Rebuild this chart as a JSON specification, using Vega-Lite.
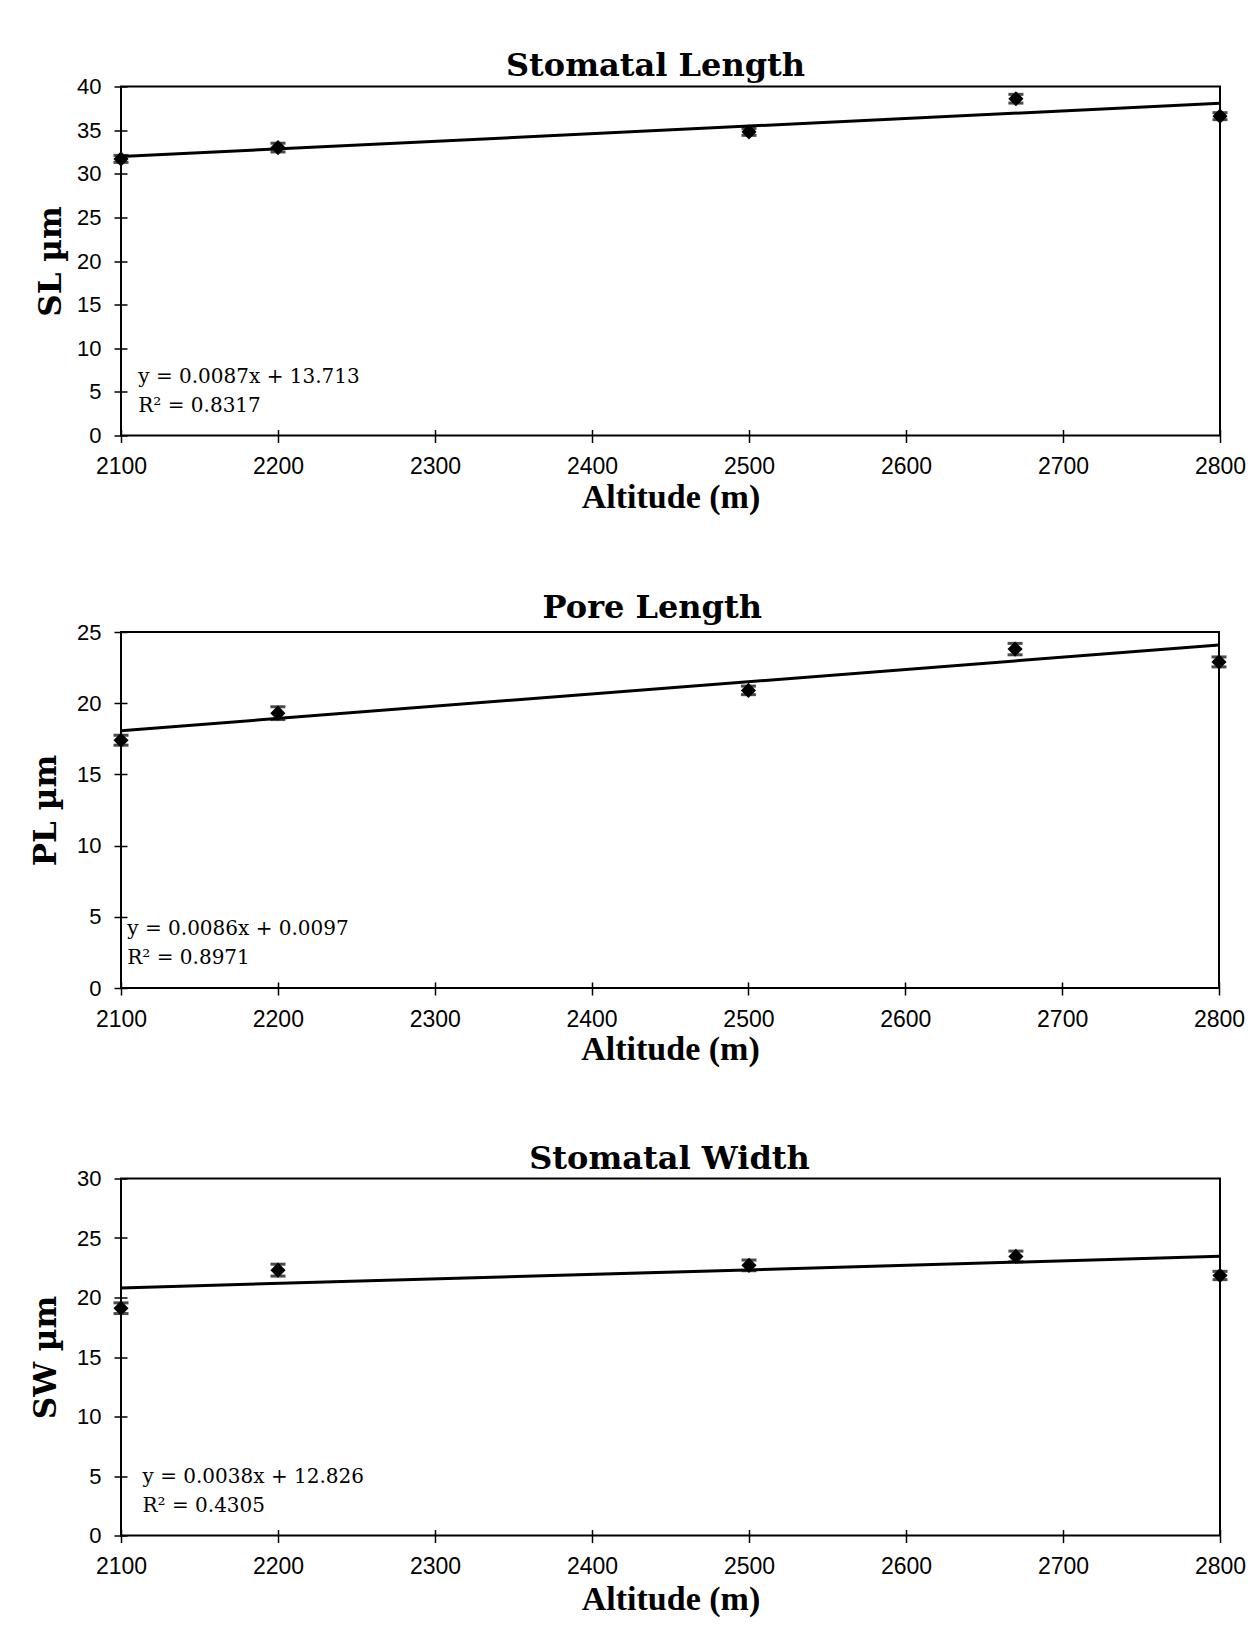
{
  "$schema": "https://vega.github.io/schema/vega-lite/v6.json",
  "background": "white",
  "padding": {"left": 29, "top": 48.5, "right": 4, "bottom": 4},
  "columns": 1,
  "align": "none",
  "spacing": 74.5,
  "config": {
    "view": {"stroke": "#000", "strokeWidth": 2},
    "axis": {
      "domain": false, "grid": false, "ticks": true,
      "tickColor": "#000", "tickWidth": 1.5, "tickSize": 13, "offset": -6,
      "labelFont": "Liberation Sans", "labelFontSize": 22, "labelColor": "#000", "labelFlush": false,
      "titleFont": "Liberation Serif", "titleFontWeight": "bold", "titleColor": "#000"
    },
    "axisX": {"labelPadding": 13, "titlePadding": 4, "titleFontSize": 34, "labelFontSize": 23},
    "axisY": {"labelPadding": 13, "titleFont": "DejaVu Serif", "titleFontSize": 31},
    "title": {"font": "DejaVu Serif", "fontSize": 32, "fontWeight": "bold", "color": "#000"},
    "text": {"font": "DejaVu Serif", "fontSize": 20, "color": "#000", "align": "left", "baseline": "alphabetic", "lineBreak": "\n", "lineHeight": 29}
  },
  "datasets": {
    "sl": [
      {"altitude": 2100, "mean": 31.7, "lo": 31.3, "hi": 32.1},
      {"altitude": 2200, "mean": 33.0, "lo": 32.5, "hi": 33.5},
      {"altitude": 2500, "mean": 34.8, "lo": 34.4, "hi": 35.2},
      {"altitude": 2670, "mean": 38.6, "lo": 38.1, "hi": 39.1},
      {"altitude": 2800, "mean": 36.6, "lo": 36.2, "hi": 37.0}
    ],
    "sl_fit": [
      {"altitude": 2100, "fit": 31.983},
      {"altitude": 2800, "fit": 38.073}
    ],
    "pl": [
      {"altitude": 2100, "mean": 17.4, "lo": 17.05, "hi": 17.75},
      {"altitude": 2200, "mean": 19.3, "lo": 18.85, "hi": 19.75},
      {"altitude": 2500, "mean": 20.9, "lo": 20.6, "hi": 21.2},
      {"altitude": 2670, "mean": 23.8, "lo": 23.4, "hi": 24.2},
      {"altitude": 2800, "mean": 22.9, "lo": 22.55, "hi": 23.25}
    ],
    "pl_fit": [
      {"altitude": 2100, "fit": 18.0697},
      {"altitude": 2800, "fit": 24.0897}
    ],
    "sw": [
      {"altitude": 2100, "mean": 19.1, "lo": 18.65, "hi": 19.55},
      {"altitude": 2200, "mean": 22.3, "lo": 21.8, "hi": 22.8},
      {"altitude": 2500, "mean": 22.7, "lo": 22.25, "hi": 23.15},
      {"altitude": 2670, "mean": 23.45, "lo": 23.0, "hi": 23.9},
      {"altitude": 2800, "mean": 21.85, "lo": 21.5, "hi": 22.2}
    ],
    "sw_fit": [
      {"altitude": 2100, "fit": 20.806},
      {"altitude": 2800, "fit": 23.466}
    ]
  },
  "concat": [
    {
      "width": 1099, "height": 349,
      "title": {"text": "Stomatal Length", "offset": -7, "dx": -15},
      "layer": [
        {
          "data": {"name": "sl_fit"},
          "mark": {"type": "line", "color": "#000", "strokeWidth": 3},
          "encoding": {
            "x": {"field": "altitude", "type": "quantitative", "title": "Altitude (m)",
                  "scale": {"domain": [2100, 2800], "nice": false, "zero": false},
                  "axis": {"values": [2100, 2200, 2300, 2400, 2500, 2600, 2700, 2800], "format": "d", "titlePadding": 2}},
            "y": {"field": "fit", "type": "quantitative", "title": "SL µm",
                  "scale": {"domain": [0, 40], "nice": false},
                  "axis": {"values": [0, 5, 10, 15, 20, 25, 30, 35, 40], "titlePadding": 8.7}}
          }
        },
        {
          "data": {"name": "sl"},
          "mark": {"type": "errorbar", "color": "#000", "thickness": 2.5, "ticks": {"color": "#000", "size": 15, "thickness": 3}},
          "encoding": {
            "x": {"field": "altitude", "type": "quantitative", "title": "Altitude (m)"},
            "y": {"field": "lo", "type": "quantitative", "title": "SL µm"},
            "y2": {"field": "hi"}
          }
        },
        {
          "data": {"name": "sl"},
          "mark": {"type": "point", "shape": "diamond", "filled": true, "color": "#000", "size": 230, "opacity": 1},
          "encoding": {
            "x": {"field": "altitude", "type": "quantitative", "title": "Altitude (m)"},
            "y": {"field": "mean", "type": "quantitative", "title": "SL µm"}
          }
        },
        {
          "data": {"values": [{"label": "y = 0.0087x + 13.713\nR² = 0.8317"}]},
          "mark": {"type": "text"},
          "encoding": {
            "x": {"datum": 2111, "type": "quantitative"},
            "y": {"datum": 6.05, "type": "quantitative"},
            "text": {"field": "label"}
          }
        }
      ]
    },
    {
      "width": 1098, "height": 356,
      "title": {"text": "Pore Length", "offset": -3.5, "dx": -17.7},
      "layer": [
        {
          "data": {"name": "pl_fit"},
          "mark": {"type": "line", "color": "#000", "strokeWidth": 3},
          "encoding": {
            "x": {"field": "altitude", "type": "quantitative", "title": "Altitude (m)",
                  "scale": {"domain": [2100, 2800], "nice": false, "zero": false},
                  "axis": {"values": [2100, 2200, 2300, 2400, 2500, 2600, 2700, 2800], "format": "d", "titlePadding": 1}},
            "y": {"field": "fit", "type": "quantitative", "title": "PL µm",
                  "scale": {"domain": [0, 25], "nice": false},
                  "axis": {"values": [0, 5, 10, 15, 20, 25], "titlePadding": 13.7}}
          }
        },
        {
          "data": {"name": "pl"},
          "mark": {"type": "errorbar", "color": "#000", "thickness": 2.5, "ticks": {"color": "#000", "size": 15, "thickness": 3}},
          "encoding": {
            "x": {"field": "altitude", "type": "quantitative", "title": "Altitude (m)"},
            "y": {"field": "lo", "type": "quantitative", "title": "PL µm"},
            "y2": {"field": "hi"}
          }
        },
        {
          "data": {"name": "pl"},
          "mark": {"type": "point", "shape": "diamond", "filled": true, "color": "#000", "size": 230, "opacity": 1},
          "encoding": {
            "x": {"field": "altitude", "type": "quantitative", "title": "Altitude (m)"},
            "y": {"field": "mean", "type": "quantitative", "title": "PL µm"}
          }
        },
        {
          "data": {"values": [{"label": "y = 0.0086x + 0.0097\nR² = 0.8971"}]},
          "mark": {"type": "text"},
          "encoding": {
            "x": {"datum": 2104, "type": "quantitative"},
            "y": {"datum": 3.73, "type": "quantitative"},
            "text": {"field": "label"}
          }
        }
      ]
    },
    {
      "width": 1099, "height": 357,
      "title": {"text": "Stomatal Width", "offset": -8, "dx": -1},
      "layer": [
        {
          "data": {"name": "sw_fit"},
          "mark": {"type": "line", "color": "#000", "strokeWidth": 3},
          "encoding": {
            "x": {"field": "altitude", "type": "quantitative", "title": "Altitude (m)",
                  "scale": {"domain": [2100, 2800], "nice": false, "zero": false},
                  "axis": {"values": [2100, 2200, 2300, 2400, 2500, 2600, 2700, 2800], "format": "d"}},
            "y": {"field": "fit", "type": "quantitative", "title": "SW µm",
                  "scale": {"domain": [0, 30], "nice": false},
                  "axis": {"values": [0, 5, 10, 15, 20, 25, 30], "titlePadding": 13.7}}
          }
        },
        {
          "data": {"name": "sw"},
          "mark": {"type": "errorbar", "color": "#000", "thickness": 2.5, "ticks": {"color": "#000", "size": 15, "thickness": 3}},
          "encoding": {
            "x": {"field": "altitude", "type": "quantitative", "title": "Altitude (m)"},
            "y": {"field": "lo", "type": "quantitative", "title": "SW µm"},
            "y2": {"field": "hi"}
          }
        },
        {
          "data": {"name": "sw"},
          "mark": {"type": "point", "shape": "diamond", "filled": true, "color": "#000", "size": 230, "opacity": 1},
          "encoding": {
            "x": {"field": "altitude", "type": "quantitative", "title": "Altitude (m)"},
            "y": {"field": "mean", "type": "quantitative", "title": "SW µm"}
          }
        },
        {
          "data": {"values": [{"label": "y = 0.0038x + 12.826\nR² = 0.4305"}]},
          "mark": {"type": "text"},
          "encoding": {
            "x": {"datum": 2113.7, "type": "quantitative"},
            "y": {"datum": 4.37, "type": "quantitative"},
            "text": {"field": "label"}
          }
        }
      ]
    }
  ]
}
